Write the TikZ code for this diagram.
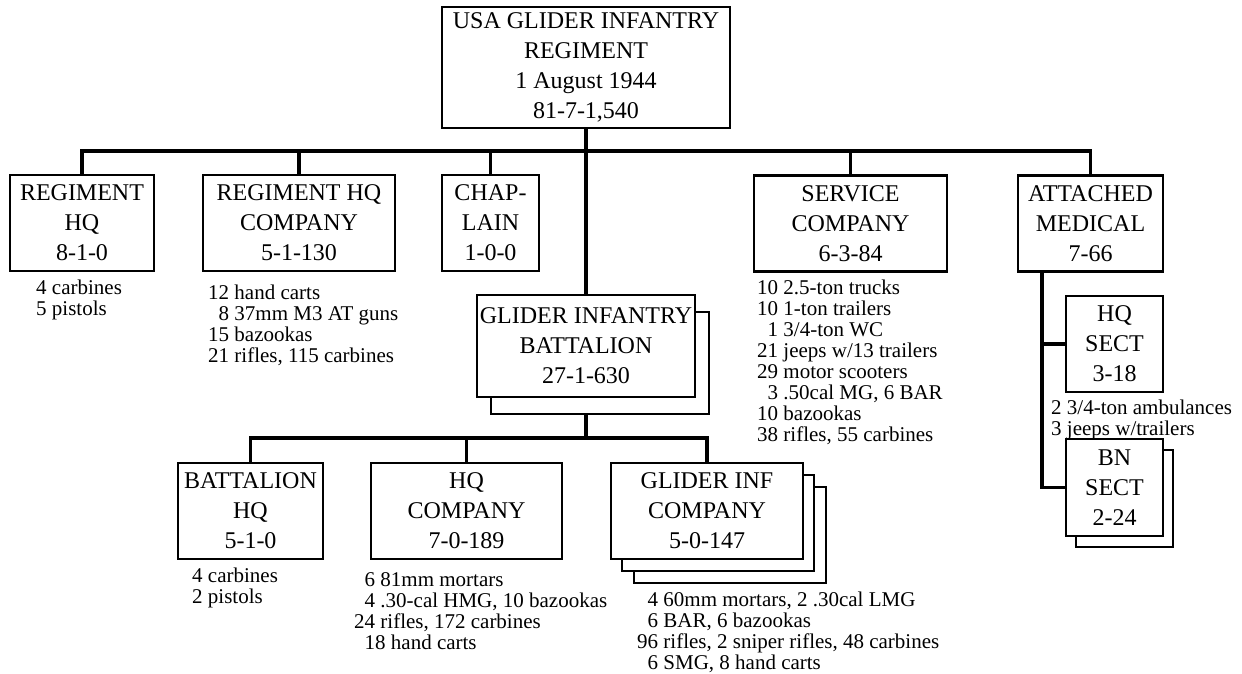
\documentclass[tikz,border=0pt]{standalone}
\usepackage{fontspec}
\setmainfont{Liberation Serif}
\usetikzlibrary{backgrounds}
\begin{document}
\begin{tikzpicture}[x=1pt,y=-1pt,
  unit/.style={draw, line width=2.4pt, fill=white, inner sep=0pt, align=center, font=\fontsize{24}{30}\selectfont},
  shadowbox/.style={draw, line width=2.4pt, fill=white, inner sep=0pt},
  conn/.style={line width=3.4pt},
  note/.style={anchor=north west, inner sep=0pt, align=left, font=\fontsize{21}{21}\selectfont}]
\useasboundingbox (0,0) rectangle (1242,673);

% top
\node[unit, minimum width=288pt, minimum height=121pt] (usa) at (586,67.5) {USA GLIDER INFANTRY\\REGIMENT\\1 August 1944\\81-7-1,540};

% row 1
\node[unit, minimum width=144pt, minimum height=96pt] (rhq) at (82,223) {REGIMENT\\HQ\\8-1-0};
\node[unit, minimum width=192pt, minimum height=96pt] (rhqco) at (299,223) {REGIMENT HQ\\COMPANY\\5-1-130};
\node[unit, minimum width=97pt, minimum height=96pt] (chap) at (490.5,223) {CHAP-\\LAIN\\1-0-0};
\node[unit, minimum width=193pt, minimum height=96pt] (svc) at (850.5,223.5) {SERVICE\\COMPANY\\6-3-84};
\node[unit, minimum width=145pt, minimum height=96pt] (med) at (1090.5,223.5) {ATTACHED\\MEDICAL\\7-66};

% battalion
\node[shadowbox, minimum width=218pt, minimum height=102pt] (bat2) at (600,363) {};
\node[unit, minimum width=218pt, minimum height=102pt] (bat) at (586,346) {GLIDER INFANTRY\\BATTALION\\27-1-630};

% row 3
\node[unit, minimum width=145pt, minimum height=96pt] (bhq) at (250.5,511) {BATTALION\\HQ\\5-1-0};
\node[unit, minimum width=191pt, minimum height=96pt] (hqco) at (466.5,511) {HQ\\COMPANY\\7-0-189};
\node[shadowbox, minimum width=192pt, minimum height=96pt] (gic3) at (730,535) {};
\node[shadowbox, minimum width=192pt, minimum height=96pt] (gic2) at (718,523) {};
\node[unit, minimum width=192pt, minimum height=96pt] (gic) at (707,511) {GLIDER INF\\COMPANY\\5-0-147};

% medical sections
\node[unit, minimum width=97pt, minimum height=96pt] (hqs) at (1114.5,344) {HQ\\SECT\\3-18};
\node[shadowbox, minimum width=97pt, minimum height=97pt] (bns2) at (1124.5,498.5) {};
\node[unit, minimum width=97pt, minimum height=97pt] (bns) at (1114.5,487.5) {BN\\SECT\\2-24};

% connectors
\begin{scope}[on background layer]
\path (rhq.north) ++(0,-23) coordinate (bus1);
\draw[conn] (rhq.north) -- (bus1) -| (med.north);
\draw[conn] (usa.south) -- (bat.north);
\draw[conn] (rhqco.north) -- (rhqco.north |- bus1);
\draw[conn] (chap.north) -- (chap.north |- bus1);
\draw[conn] (svc.north) -- (svc.north |- bus1);
\path (bhq.north) ++(0,-24) coordinate (bus2);
\draw[conn] (bhq.north) -- (bus2) -| (gic.north);
\draw[conn] (bat.south |- bat2.south) -- (bat.south |- bus2);
\draw[conn] (hqco.north) -- (hqco.north |- bus2);
\coordinate (medx) at ([xshift=-48.5pt]med.south);
\draw[conn] (medx) |- (bns.west);
\draw[conn] (medx |- hqs.west) -- (hqs.west);
\end{scope}

% notes
\node[note] (n1) at (36,279.5) {4 carbines\\5 pistols};
\node[note] (n2) at (208,284.5) {12 hand carts\\\phantom{0}8 37mm M3 AT guns\\15 bazookas\\21 rifles, 115 carbines};
\node[note] (n3) at (757,279.5) {10 2.5-ton trucks\\10 1-ton trailers\\\phantom{0}1 3/4-ton WC\\21 jeeps w/13 trailers\\29 motor scooters\\\phantom{0}3 .50cal MG, 6 BAR\\10 bazookas\\38 rifles, 55 carbines};
\node[note] (n4) at (1051,399.5) {2 3/4-ton ambulances\\3 jeeps w/trailers};
\node[note] (n5) at (192,567.5) {4 carbines\\2 pistols};
\node[note] (n6) at (354,572.5) {\phantom{0}6 81mm mortars\\\phantom{0}4 .30-cal HMG, 10 bazookas\\24 rifles, 172 carbines\\\phantom{0}18 hand carts};
\node[note] (n7) at (637,591.5) {\phantom{0}4 60mm mortars, 2 .30cal LMG\\\phantom{0}6 BAR, 6 bazookas\\96 rifles, 2 sniper rifles, 48 carbines\\\phantom{0}6 SMG, 8 hand carts};
\end{tikzpicture}
\end{document}
